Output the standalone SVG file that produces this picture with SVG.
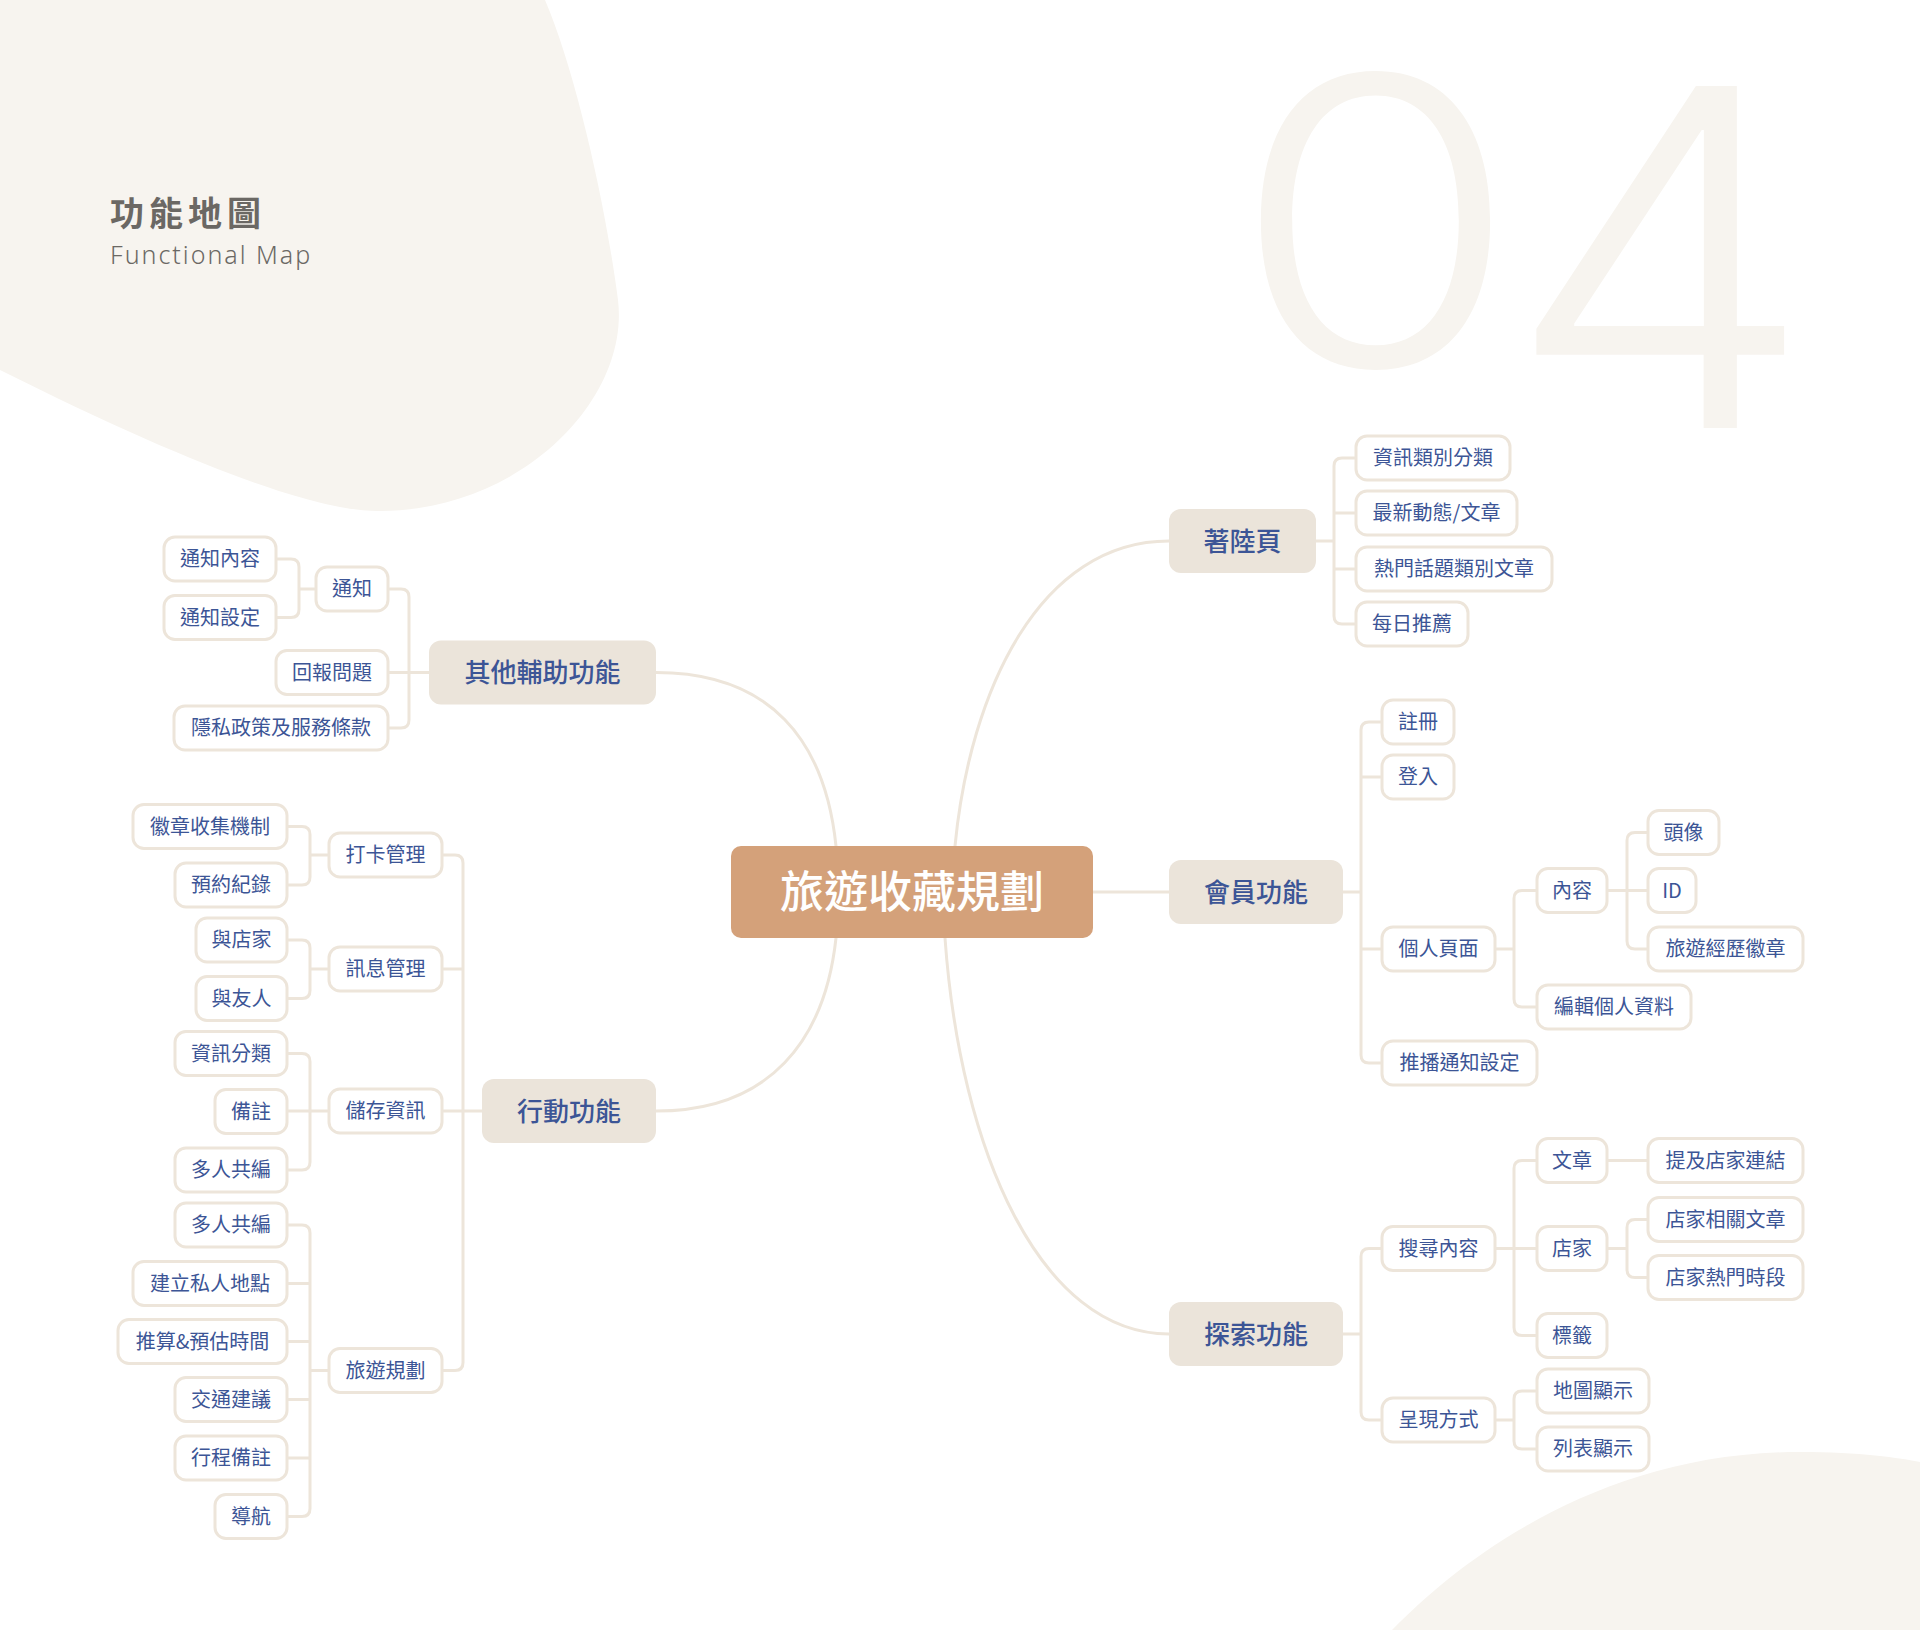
<svg xmlns="http://www.w3.org/2000/svg" width="1920" height="1630" viewBox="0 0 1920 1630">
<style>
.bg{fill:#f7f4ef}
.big{fill:#f7f4ef;font-family:Inter,"Noto Sans",sans-serif;font-weight:300}
.title{fill:#6b6864;font-family:"Noto Sans CJK TC","Noto Sans CJK SC",sans-serif;font-weight:700;font-size:34px;letter-spacing:5px}
.sub{fill:#6b6864;font-family:"Noto Sans","Liberation Sans",sans-serif;font-weight:300;font-size:25px;letter-spacing:2px}
.conn path{fill:none;stroke:#ede5da;stroke-width:3;stroke-linecap:round}
.leaf rect{fill:#ffffff;stroke:#ede5da;stroke-width:3}
.leaf text{fill:#3c5596;font-family:"Noto Sans CJK TC","Noto Sans CJK SC",sans-serif;font-size:20px;text-anchor:middle}
.l1 rect{fill:#ebe4da}
.l1 text{fill:#3c5596;font-family:"Noto Sans CJK TC","Noto Sans CJK SC",sans-serif;font-size:26px;font-weight:500;text-anchor:middle}
.root rect{fill:#d4a17a}
.root text{fill:#ffffff;font-family:"Noto Sans CJK TC","Noto Sans CJK SC",sans-serif;font-size:44px;font-weight:500;text-anchor:middle}
</style>
<rect width="1920" height="1630" fill="#ffffff"/>
<path class="bg" d="M0,0 L545,0 C575,70 605,200 618,300 C630,400 520,511 380,511 C320,512 200,470 0,370 Z"/>
<path class="bg" d="M1392,1630 C1460,1560 1600,1452 1800,1452 C1860,1452 1900,1458 1920,1462 V1630 Z"/>
<text class="big" transform="translate(1375.5,366) scale(1.17,1)" x="0" y="0" font-size="400" text-anchor="middle">0</text>
<text class="big" transform="translate(1660,428) scale(1.05,1)" x="0" y="0" font-size="470" text-anchor="middle">4</text>
<text class="title" x="110" y="226">功能地圖</text>
<text class="sub" x="110" y="264">Functional Map</text>

<g id="connectors" class="conn">
<path d="M955,846 C970,690 1040,541 1169,541"/>
<path d="M945,938 C960,1150 1040,1334 1169,1334"/>
<path d="M836,846 C825,740 770,672.5 656,672.5"/>
<path d="M836,938 C825,1040 770,1111 656,1111"/>
<path d="M1093,892 H1169"/>
<path d="M1316,541 H1334 M1356,458 H1342 Q1334,458 1334,466 V616 Q1334,624 1342,624 H1356 M1334,513 H1356 M1334,569 H1356"/>
<path d="M1343,892 H1361 M1382,722 H1369 Q1361,722 1361,730 V1055 Q1361,1063 1369,1063 H1382 M1361,777 H1382 M1361,949 H1382"/>
<path d="M1495,949 H1514 M1537,890.5 H1522 Q1514,890.5 1514,898.5 V999 Q1514,1007 1522,1007 H1537"/>
<path d="M1607,890.5 H1648 M1648,832.5 H1635 Q1627,832.5 1627,840.5 V941 Q1627,949 1635,949 H1648"/>
<path d="M1343,1334 H1361 M1382,1248.5 H1369 Q1361,1248.5 1361,1256.5 V1412 Q1361,1420 1369,1420 H1382"/>
<path d="M1495,1248.5 H1537 M1537,1160.5 H1522 Q1514,1160.5 1514,1168.5 V1327.5 Q1514,1335.5 1522,1335.5 H1537"/>
<path d="M1607,1160.5 H1648"/>
<path d="M1607,1248.5 H1627 M1648,1219.5 H1635 Q1627,1219.5 1627,1227.5 V1269.5 Q1627,1277.5 1635,1277.5 H1648"/>
<path d="M1495,1420 H1514 M1537,1391 H1522 Q1514,1391 1514,1399 V1441 Q1514,1449 1522,1449 H1537"/>
<path d="M429,672.5 H388 M388,589 H401 Q409,589 409,597 V720 Q409,728 401,728 H388"/>
<path d="M316,589 H299 M276,559 H291 Q299,559 299,567 V609.5 Q299,617.5 291,617.5 H276"/>
<path d="M482,1111 H442 M442,855 H455 Q463,855 463,863 V1362.5 Q463,1370.5 455,1370.5 H442 M463,969 H442"/>
<path d="M329,855 H310 M287,826.5 H302 Q310,826.5 310,834.5 V877 Q310,885 302,885 H287"/>
<path d="M329,969 H310 M287,940 H302 Q310,940 310,948 V990.5 Q310,998.5 302,998.5 H287"/>
<path d="M329,1111 H287 M287,1053.5 H302 Q310,1053.5 310,1061.5 V1162 Q310,1170 302,1170 H287"/>
<path d="M329,1370.5 H310 M287,1225 H302 Q310,1225 310,1233 V1508.5 Q310,1516.5 302,1516.5 H287 M310,1283.5 H287 M310,1341.5 H287 M310,1399.5 H287 M310,1458 H287"/>
</g>

<g id="root" class="root"><rect x="731" y="846" width="362" height="92" rx="10"/><text x="912" y="908">旅遊收藏規劃</text></g>

<g id="landing" class="l1"><rect x="1169" y="509" width="147" height="64" rx="12"/><text x="1242.5" y="550.5">著陸頁</text></g>
<g id="landing-1" class="leaf"><rect x="1356" y="436" width="154" height="44" rx="11"/><text x="1433" y="465">資訊類別分類</text></g>
<g id="landing-2" class="leaf"><rect x="1356" y="491" width="161" height="44" rx="11"/><text x="1436.5" y="520">最新動態/文章</text></g>
<g id="landing-3" class="leaf"><rect x="1356" y="547" width="196" height="44" rx="11"/><text x="1454" y="576">熱門話題類別文章</text></g>
<g id="landing-4" class="leaf"><rect x="1356" y="602" width="112" height="44" rx="11"/><text x="1412" y="631">每日推薦</text></g>

<g id="member" class="l1"><rect x="1169" y="860" width="174" height="64" rx="12"/><text x="1256" y="901.5">會員功能</text></g>
<g id="member-register" class="leaf"><rect x="1382" y="700" width="72" height="44" rx="11"/><text x="1418" y="729">註冊</text></g>
<g id="member-login" class="leaf"><rect x="1382" y="755" width="72" height="44" rx="11"/><text x="1418" y="784">登入</text></g>
<g id="member-page" class="leaf"><rect x="1382" y="927" width="113" height="44" rx="11"/><text x="1438.5" y="956">個人頁面</text></g>
<g id="member-push" class="leaf"><rect x="1382" y="1041" width="155" height="44" rx="11"/><text x="1459.5" y="1070">推播通知設定</text></g>
<g id="page-content" class="leaf"><rect x="1537" y="868.5" width="70" height="44" rx="11"/><text x="1572" y="897.5">內容</text></g>
<g id="page-edit" class="leaf"><rect x="1537" y="985" width="154" height="44" rx="11"/><text x="1614" y="1014">編輯個人資料</text></g>
<g id="content-avatar" class="leaf"><rect x="1648" y="810.5" width="71" height="44" rx="11"/><text x="1683.5" y="839.5">頭像</text></g>
<g id="content-id" class="leaf"><rect x="1648" y="868.5" width="48" height="44" rx="11"/><text x="1672" y="897.5">ID</text></g>
<g id="content-badge" class="leaf"><rect x="1648" y="927" width="155" height="44" rx="11"/><text x="1725.5" y="956">旅遊經歷徽章</text></g>

<g id="explore" class="l1"><rect x="1169" y="1302" width="174" height="64" rx="12"/><text x="1256" y="1343.5">探索功能</text></g>
<g id="explore-search" class="leaf"><rect x="1382" y="1226.5" width="113" height="44" rx="11"/><text x="1438.5" y="1255.5">搜尋內容</text></g>
<g id="explore-display" class="leaf"><rect x="1382" y="1398" width="113" height="44" rx="11"/><text x="1438.5" y="1427">呈現方式</text></g>
<g id="search-article" class="leaf"><rect x="1537" y="1138.5" width="70" height="44" rx="11"/><text x="1572" y="1167.5">文章</text></g>
<g id="search-store" class="leaf"><rect x="1537" y="1226.5" width="70" height="44" rx="11"/><text x="1572" y="1255.5">店家</text></g>
<g id="search-tag" class="leaf"><rect x="1537" y="1313.5" width="70" height="44" rx="11"/><text x="1572" y="1342.5">標籤</text></g>
<g id="article-link" class="leaf"><rect x="1648" y="1138.5" width="155" height="44" rx="11"/><text x="1725.5" y="1167.5">提及店家連結</text></g>
<g id="store-articles" class="leaf"><rect x="1648" y="1197.5" width="155" height="44" rx="11"/><text x="1725.5" y="1226.5">店家相關文章</text></g>
<g id="store-hours" class="leaf"><rect x="1648" y="1255.5" width="155" height="44" rx="11"/><text x="1725.5" y="1284.5">店家熱門時段</text></g>
<g id="display-map" class="leaf"><rect x="1537" y="1369" width="112" height="44" rx="11"/><text x="1593" y="1398">地圖顯示</text></g>
<g id="display-list" class="leaf"><rect x="1537" y="1427" width="112" height="44" rx="11"/><text x="1593" y="1456">列表顯示</text></g>

<g id="other" class="l1"><rect x="429" y="640.5" width="227" height="64" rx="12"/><text x="542.5" y="682">其他輔助功能</text></g>
<g id="other-notify" class="leaf"><rect x="316" y="567" width="72" height="44" rx="11"/><text x="352" y="596">通知</text></g>
<g id="other-report" class="leaf"><rect x="276" y="650.5" width="112" height="44" rx="11"/><text x="332" y="679.5">回報問題</text></g>
<g id="other-privacy" class="leaf"><rect x="174" y="706" width="214" height="44" rx="11"/><text x="281" y="735">隱私政策及服務條款</text></g>
<g id="notify-content" class="leaf"><rect x="164" y="537" width="112" height="44" rx="11"/><text x="220" y="566">通知內容</text></g>
<g id="notify-settings" class="leaf"><rect x="164" y="595.5" width="112" height="44" rx="11"/><text x="220" y="624.5">通知設定</text></g>

<g id="action" class="l1"><rect x="482" y="1079" width="174" height="64" rx="12"/><text x="569" y="1120.5">行動功能</text></g>
<g id="action-checkin" class="leaf"><rect x="329" y="833" width="113" height="44" rx="11"/><text x="385.5" y="862">打卡管理</text></g>
<g id="action-message" class="leaf"><rect x="329" y="947" width="113" height="44" rx="11"/><text x="385.5" y="976">訊息管理</text></g>
<g id="action-save" class="leaf"><rect x="329" y="1089" width="113" height="44" rx="11"/><text x="385.5" y="1118">儲存資訊</text></g>
<g id="action-plan" class="leaf"><rect x="329" y="1348.5" width="113" height="44" rx="11"/><text x="385.5" y="1377.5">旅遊規劃</text></g>
<g id="checkin-badge" class="leaf"><rect x="133" y="804.5" width="154" height="44" rx="11"/><text x="210" y="833.5">徽章收集機制</text></g>
<g id="checkin-booking" class="leaf"><rect x="175" y="863" width="112" height="44" rx="11"/><text x="231" y="892">預約紀錄</text></g>
<g id="message-store" class="leaf"><rect x="196" y="918" width="91" height="44" rx="11"/><text x="241.5" y="947">與店家</text></g>
<g id="message-friend" class="leaf"><rect x="196" y="976.5" width="91" height="44" rx="11"/><text x="241.5" y="1005.5">與友人</text></g>
<g id="save-category" class="leaf"><rect x="175" y="1031.5" width="112" height="44" rx="11"/><text x="231" y="1060.5">資訊分類</text></g>
<g id="save-note" class="leaf"><rect x="215" y="1089.5" width="72" height="44" rx="11"/><text x="251" y="1118.5">備註</text></g>
<g id="save-coedit" class="leaf"><rect x="175" y="1148" width="112" height="44" rx="11"/><text x="231" y="1177">多人共編</text></g>
<g id="plan-coedit" class="leaf"><rect x="175" y="1203" width="112" height="44" rx="11"/><text x="231" y="1232">多人共編</text></g>
<g id="plan-private" class="leaf"><rect x="133" y="1261.5" width="154" height="44" rx="11"/><text x="210" y="1290.5">建立私人地點</text></g>
<g id="plan-estimate" class="leaf"><rect x="118" y="1319.5" width="169" height="44" rx="11"/><text x="202.5" y="1348.5">推算&amp;預估時間</text></g>
<g id="plan-traffic" class="leaf"><rect x="175" y="1377.5" width="112" height="44" rx="11"/><text x="231" y="1406.5">交通建議</text></g>
<g id="plan-note" class="leaf"><rect x="175" y="1436" width="112" height="44" rx="11"/><text x="231" y="1465">行程備註</text></g>
<g id="plan-nav" class="leaf"><rect x="215" y="1494.5" width="72" height="44" rx="11"/><text x="251" y="1523.5">導航</text></g>
</svg>
